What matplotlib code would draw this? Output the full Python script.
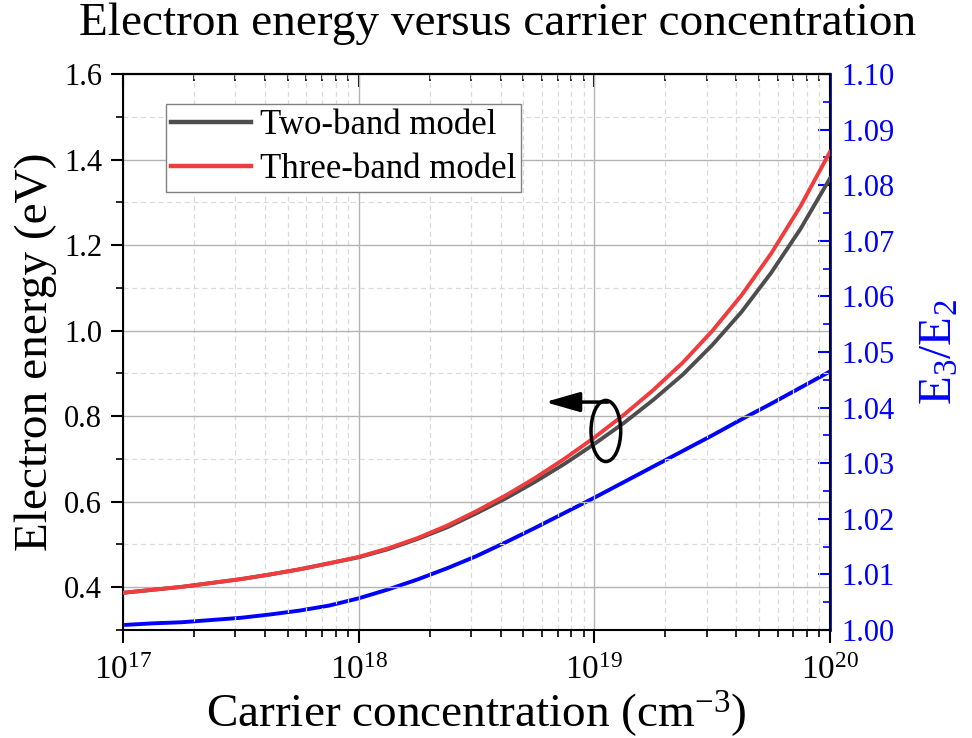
import numpy as np
import matplotlib
matplotlib.use("Agg")
import matplotlib.pyplot as plt
from matplotlib.ticker import LogLocator, LogFormatterMathtext, MultipleLocator, NullFormatter, FormatStrFormatter
from matplotlib.patches import Ellipse

plt.rcParams["font.family"] = ["Liberation Serif", "DejaVu Serif"]
plt.rcParams["mathtext.fontset"] = "custom"
plt.rcParams["mathtext.rm"] = "Liberation Serif"
plt.rcParams["mathtext.it"] = "Liberation Serif:italic"
plt.rcParams["mathtext.default"] = "regular"

# carrier concentration, log10(n / cm^-3)
log_n = [17.0, 17.125, 17.25, 17.375, 17.5, 17.625, 17.75, 17.875, 18.0,
         18.125, 18.25, 18.375, 18.5, 18.625, 18.75, 18.875, 19.0,
         19.125, 19.25, 19.375, 19.5, 19.625, 19.75, 19.875, 20.0]
# electron energy (eV)
e_two = [0.387, 0.394, 0.401, 0.410, 0.419, 0.430, 0.442, 0.456, 0.470,
         0.489, 0.513, 0.540, 0.573, 0.608, 0.647, 0.689, 0.735,
         0.784, 0.838, 0.897, 0.966, 1.044, 1.135, 1.238, 1.356]
e_three = [0.387, 0.394, 0.401, 0.410, 0.419, 0.430, 0.442, 0.456, 0.471,
           0.491, 0.515, 0.544, 0.578, 0.615, 0.656, 0.701, 0.750,
           0.803, 0.861, 0.925, 0.999, 1.083, 1.180, 1.291, 1.418]
# E3/E2 ratio
ratio = [1.0009, 1.0012, 1.0014, 1.0018, 1.0022, 1.0028, 1.0035, 1.0044, 1.0057,
         1.0073, 1.0091, 1.0111, 1.0133, 1.0158, 1.0184, 1.0211, 1.0238,
         1.0266, 1.0294, 1.0322, 1.0350, 1.0379, 1.0407, 1.0436, 1.0465]

n = 10.0 ** np.array(log_n)

fig = plt.figure(figsize=(9.72, 7.38), dpi=100)
ax = fig.add_axes([0.1265, 0.1463, 0.7274, 0.7534])
ax2 = ax.twinx()

ax.set_zorder(ax2.get_zorder() + 1)
ax.patch.set_visible(False)

ax.plot(n, e_two, color="#4d4d4d", lw=2.8, label="Two-band model", zorder=3)
ax.plot(n, e_three, color="#f03c3c", lw=2.8, label="Three-band model", zorder=3)
ax2.plot(n, ratio, color="#0000ff", lw=2.8)

ax.set_xscale("log")
ax.set_xlim(1e17, 1e20)
ax.set_ylim(0.3, 1.6)
ax2.set_ylim(1.00, 1.10)

# left axis
ax.yaxis.set_major_locator(MultipleLocator(0.2))
ax.yaxis.set_minor_locator(MultipleLocator(0.1))
ax.yaxis.set_major_formatter(FormatStrFormatter("%.1f"))
ax.xaxis.set_major_locator(LogLocator(base=10, numticks=10))
ax.xaxis.set_minor_locator(LogLocator(base=10, subs=np.arange(2, 10), numticks=10))
ax.xaxis.set_major_formatter(LogFormatterMathtext())
ax.xaxis.set_minor_formatter(NullFormatter())
ax.tick_params(axis="both", which="major", direction="out", length=9, width=1.5)
ax.tick_params(axis="both", which="minor", direction="out", length=5, width=1.2)
ax.tick_params(axis="y", labelsize=22, pad=6, right=False)
ax.tick_params(axis="x", labelsize=24, pad=9, top=False)

ax.grid(True, which="major", color="#b4b4b4", lw=1.0, ls="-")
ax.grid(True, which="minor", color="#dadada", lw=0.9, ls=(0, (4, 3)))

# top ticks point inward
top = ax.secondary_xaxis("top")
top.set_xscale("log")
top.xaxis.set_major_locator(LogLocator(base=10, numticks=10))
top.xaxis.set_minor_locator(LogLocator(base=10, subs=np.arange(2, 10), numticks=10))
top.tick_params(which="major", direction="in", length=9, width=1.5, labeltop=False)
top.tick_params(which="minor", direction="in", length=5, width=1.2)
top.xaxis.set_major_formatter(NullFormatter())
top.xaxis.set_minor_formatter(NullFormatter())
top.spines["top"].set_linewidth(1.5)

# right axis in blue
ax2.yaxis.set_major_locator(MultipleLocator(0.01))
ax2.yaxis.set_minor_locator(MultipleLocator(0.005))
ax2.yaxis.set_major_formatter(FormatStrFormatter("%.2f"))
ax2.tick_params(axis="y", which="major", direction="in", length=9, width=1.5,
                colors="#0000ff", labelsize=22, pad=8)
ax2.tick_params(axis="y", which="minor", direction="in", length=5, width=1.2,
                colors="#0000ff")

for a in (ax, ax2):
    for s in a.spines.values():
        s.set_linewidth(1.5)
ax2.spines["right"].set_color("#0000ff")
ax2.spines["right"].set_linewidth(2.0)
ax2.spines["left"].set_visible(False)
ax2.spines["bottom"].set_visible(False)
ax2.spines["top"].set_visible(False)

ax.set_xlabel("Carrier concentration (cm$^{-3}$)", fontsize=34, labelpad=2)
ax.set_ylabel("Electron energy (eV)", fontsize=34, labelpad=5)
ax2.set_ylabel("E$_3$/E$_2$", fontsize=34, color="#0000ff", labelpad=18)
fig.suptitle("Electron energy versus carrier concentration", fontsize=34,
             x=0.512, y=0.997, va="top")

leg = ax.legend(loc="upper left", bbox_to_anchor=(0.061, 0.946), fontsize=25,
                fancybox=False, edgecolor="#808080", framealpha=1,
                handlelength=2.3, handletextpad=0.25, borderpad=0.15,
                borderaxespad=0, labelspacing=0.32)
leg.get_frame().set_linewidth(1.0)
for line in leg.get_lines():
    line.set_linewidth(3.2)

# arrow marking which curves belong to the left axis
ax.add_patch(Ellipse((0.683, 0.358), 0.042, 0.11, transform=ax.transAxes,
                     fill=False, ec="black", lw=2.5, zorder=5))
ax.annotate("", xy=(0.597, 0.41), xytext=(0.686, 0.41),
            xycoords="axes fraction", textcoords="axes fraction",
            arrowprops=dict(arrowstyle="-|>,head_length=1.05,head_width=0.3",
                            mutation_scale=20, color="black", lw=2.5,
                            shrinkA=0, shrinkB=0),
            zorder=5)

fig.savefig("out.png", dpi=100)
